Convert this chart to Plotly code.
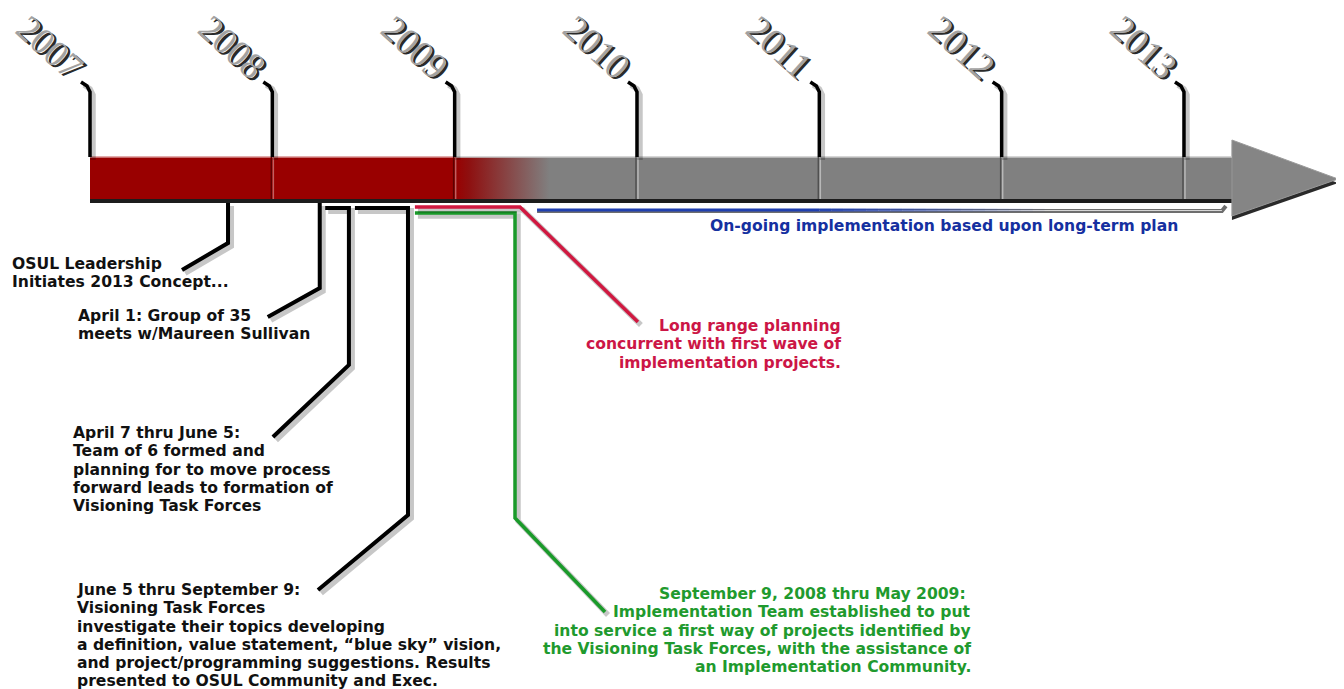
import plotly.graph_objects as go

# ---------------- data ----------------
years = [2007, 2008, 2009, 2010, 2011, 2012, 2013]
year_labels = ["2007", "2008", "2009", "2010", "2011", "2012", "2013"]

timeline_start = 2007.0
red_era_end = 2009.0
fade_end = 2009.52
shaft_end = 2013.263
arrow_tip = 2013.845

osul_date = 2007.757
april1_date = 2008.26
team6_span = [2008.29, 2008.42]
taskforce_span = [2008.453, 2008.744]
longrange_span = [2008.782, 2009.358]
implementation_span = [2008.782, 2009.331]
ongoing_span = [2009.452, 2013.208]
ongoing_blue_solid_end = 2011.0
ongoing_blue_fade_end = 2012.3

osul_lines = ["OSUL Leadership", "Initiates 2013 Concept..."]
april1_lines = ["April 1: Group of 35", "meets w/Maureen Sullivan"]
team6_lines = ["April 7 thru June 5:", "Team of 6 formed and",
               "planning for to move process", "forward leads to formation of",
               "Visioning Task Forces"]
taskforce_lines = ["June 5 thru September 9:", "Visioning Task Forces",
                   "investigate their topics developing",
                   "a definition, value statement, \u201cblue sky\u201d vision,",
                   "and project/programming suggestions. Results",
                   "presented to OSUL Community and Exec."]
longrange_lines = ["Long range planning", "concurrent with first wave of",
                   "implementation projects."]
implementation_lines = ["September 9, 2008 thru May 2009: ",
                        "Implementation Team established to put",
                        "into service a first way of projects identified by",
                        "the Visioning Task Forces, with the assistance of",
                        "an Implementation Community."]
ongoing_text = "On-going implementation based upon long-term plan"

# ---------------- layout helpers ----------------
PAGE_OFF = 8                     # default page margin of the html body
W, H = 1344 - PAGE_OFF, 689 - PAGE_OFF
PX_PER_YEAR = 182.33
X_MIN = 2007 + (PAGE_OFF - 90) / PX_PER_YEAR
X_MAX = 2007 + (1344 - 90) / PX_PER_YEAR


def dx(px):
    return px / PX_PER_YEAR


BAR_TOP, BAR_BOT = 157, 199
RED = "#990000"
GREY = "#808080"
BLACK_TXT = "#111111"
RED_TXT = "#cc1646"
GREEN_TXT = "#1f9a2e"
BLUE_TXT = "#1530a0"
GREEN_LINE = "#1a9a2a"
RED_LINE = "#d01840"

fig = go.Figure()
shapes = []

# bar dark under-edge
shapes.append(dict(type="rect", xref="x", yref="y", x0=timeline_start, x1=shaft_end + dx(2),
                   y0=BAR_TOP + 4, y1=BAR_BOT + 4, fillcolor="#1c1c1c", line_width=0, layer="below"))
# red era
shapes.append(dict(type="rect", xref="x", yref="y", x0=timeline_start, x1=red_era_end + dx(1),
                   y0=BAR_TOP, y1=BAR_BOT, fillcolor=RED, line_width=0, layer="below"))
# grey era
shapes.append(dict(type="rect", xref="x", yref="y", x0=fade_end - dx(1), x1=shaft_end + dx(2),
                   y0=BAR_TOP, y1=BAR_BOT, fillcolor=GREY, line_width=0, layer="below"))
# arrow head (shadow + head)
tip_y = 179
head_top, head_bot = 140, 216


def head_path(oy):
    return "M %f,%f L %f,%f L %f,%f Z" % (shaft_end, head_top + oy, arrow_tip, tip_y + oy,
                                          shaft_end, head_bot + oy)


shapes.append(dict(type="path", xref="x", yref="y", path=head_path(4), fillcolor="#2a2a2a",
                   line_width=0, layer="below"))
shapes.append(dict(type="path", xref="x", yref="y", path=head_path(0), fillcolor="#858585",
                   line=dict(color="#9a9a9a", width=1), layer="below"))

# fade red -> grey (gradient-filled polygon)
fig.add_trace(go.Scatter(
    x=[red_era_end, fade_end, fade_end, red_era_end, red_era_end],
    y=[BAR_TOP, BAR_TOP, BAR_BOT, BAR_BOT, BAR_TOP],
    mode="lines", line=dict(width=0), fill="toself",
    fillgradient=dict(type="horizontal", colorscale=[[0, RED], [0.15, "#8e1010"], [1, GREY]]),
    hoverinfo="skip", showlegend=False))

# top highlights
fig.add_trace(go.Scatter(x=[timeline_start, red_era_end], y=[BAR_TOP, BAR_TOP], mode="lines",
                         line=dict(color="#d89090", width=1.5), hoverinfo="skip", showlegend=False))
fig.add_trace(go.Scatter(x=[red_era_end, shaft_end], y=[BAR_TOP, BAR_TOP], mode="lines",
                         line=dict(color="#c8c8c8", width=1.5), hoverinfo="skip", showlegend=False))

# year dividers on the bar
for yv in years[1:]:
    if yv <= red_era_end:
        left, right = "#5a0000", "#c06060"
    else:
        left, right = "#505050", "#b8b8b8"
    for off, col in [(-1, left), (1, right)]:
        fig.add_trace(go.Scatter(x=[yv + dx(off), yv + dx(off)], y=[BAR_TOP, BAR_BOT], mode="lines",
                                 line=dict(color=col, width=1.5), hoverinfo="skip", showlegend=False))


def add_line(xs, ys, color, width, shadow=True):
    if shadow:
        fig.add_trace(go.Scatter(x=[v + dx(3) for v in xs], y=[v + 3 for v in ys], mode="lines",
                                 line=dict(color="rgba(0,0,0,0.22)", width=width + 2),
                                 hoverinfo="skip", showlegend=False))
    fig.add_trace(go.Scatter(x=xs, y=ys, mode="lines", line=dict(color=color, width=width),
                             hoverinfo="skip", showlegend=False))


# year tick leaders
for yv in years:
    add_line([yv, yv, yv - dx(3), yv - dx(9)], [BAR_TOP, 92, 86, 82], "#000000", 3.5)

# on-going rail + blue line
add_line([ongoing_span[0], ongoing_span[1], ongoing_span[1] + dx(4)], [211, 211, 206], "#6e6e6e", 4,
         shadow=False)
fig.add_trace(go.Scatter(x=[ongoing_span[0], ongoing_span[1]], y=[210.5, 210.5], mode="lines",
                         line=dict(color="#d5d5d5", width=1), hoverinfo="skip", showlegend=False))
fig.add_trace(go.Scatter(x=[ongoing_span[0], ongoing_blue_solid_end], y=[210, 210], mode="lines",
                         line=dict(color="#1f3fb0", width=3), hoverinfo="skip", showlegend=False))
m = 20
for i in range(m):
    xa = ongoing_blue_solid_end + (ongoing_blue_fade_end - ongoing_blue_solid_end) * i / m
    xb = ongoing_blue_solid_end + (ongoing_blue_fade_end - ongoing_blue_solid_end) * (i + 1) / m
    fig.add_trace(go.Scatter(x=[xa, xb], y=[210, 210], mode="lines",
                             line=dict(color="rgba(31,63,176,%.3f)" % (1 - (i + 1) / m), width=3),
                             hoverinfo="skip", showlegend=False))

# event leaders
add_line([osul_date, osul_date, osul_date + dx(-46)], [203, 243, 270], "#000000", 4)
add_line([april1_date, april1_date, april1_date + dx(-52)], [203, 288, 317], "#000000", 4)
add_line([team6_span[0], team6_span[1], team6_span[1], team6_span[1] + dx(-76)],
         [208, 208, 365, 437], "#000000", 4)
add_line([taskforce_span[0], taskforce_span[1], taskforce_span[1], taskforce_span[1] + dx(-90)],
         [208, 208, 515, 590], "#000000", 4)
add_line([implementation_span[0], implementation_span[1], implementation_span[1],
          implementation_span[1] + dx(90)], [213, 213, 518, 612], GREEN_LINE, 3.5)
add_line([longrange_span[0], longrange_span[1], longrange_span[1] + dx(118)],
         [207, 207, 322], RED_LINE, 3.5)

annotations = []
# year labels
for yv, lab in zip(years, year_labels):
    for off, col in [(2.5, "#2a2a2a"), (0, "#a2a2a2")]:
        annotations.append(dict(x=yv + dx(-40 + off), y=47 + off, xref="x", yref="y", text=lab,
                                showarrow=False, textangle=42,
                                font=dict(family="Liberation Serif", size=37, color=col)))

BODY = dict(family="DejaVu Sans", size=15.6, weight="bold")
PITCH = 18.25


def txt(lines, x_px, y_first, color, anchor):
    for i, line in enumerate(lines):
        annotations.append(dict(x=(x_px - PAGE_OFF) / W, y=1 - (y_first + i * PITCH - PAGE_OFF) / H,
                                xref="paper", yref="paper", text=line, showarrow=False,
                                xanchor=anchor, yanchor="middle", font=dict(BODY, color=color)))


txt(osul_lines, 10, 264, BLACK_TXT, "left")
txt(april1_lines, 76, 316, BLACK_TXT, "left")
txt(team6_lines, 71, 433, BLACK_TXT, "left")
txt(taskforce_lines, 75, 590, BLACK_TXT, "left")
txt(longrange_lines, 843, 326, RED_TXT, "right")
txt(implementation_lines, 973, 594, GREEN_TXT, "right")
txt([ongoing_text], 944, 226, BLUE_TXT, "center")

fig.update_layout(
    width=W, height=H, margin=dict(l=0, r=0, t=0, b=0),
    paper_bgcolor="white", plot_bgcolor="white",
    xaxis=dict(range=[X_MIN, X_MAX], visible=False, fixedrange=True),
    yaxis=dict(range=[689, PAGE_OFF], visible=False, fixedrange=True),
    shapes=shapes, annotations=annotations, showlegend=False, hovermode=False,
)

fig.write_html("out.html")
